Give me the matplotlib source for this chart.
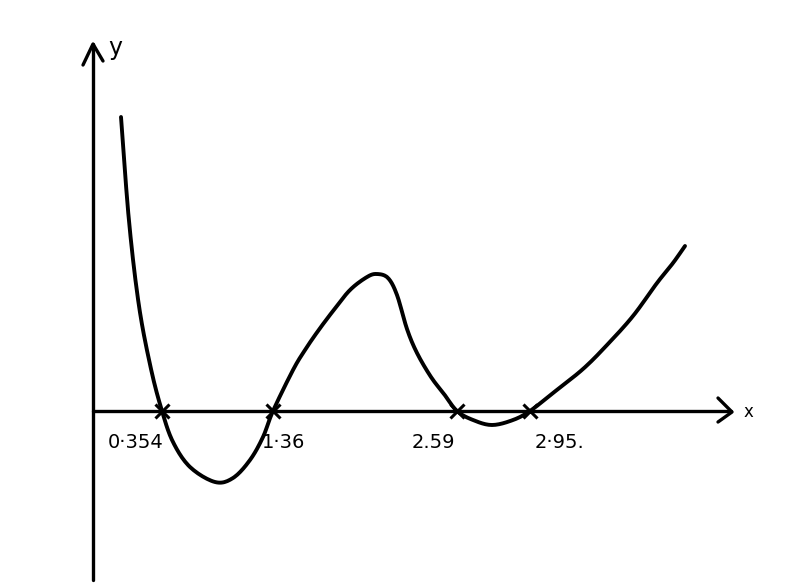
import matplotlib
matplotlib.use("Agg")
import matplotlib.pyplot as plt
import numpy as np

# Sketch coordinates (origin at axes crossing, y up)
curve_x = [28, 36, 46, 58, 69, 80, 97, 122, 140, 157, 170, 180,
           200, 212, 225, 240, 257, 274, 284, 295, 304, 314, 324, 338, 351, 364,
           380, 399, 420, 437, 460, 490, 514, 540, 564, 580, 592]
curve_y = [294, 190, 105, 42, 0, -31, -56, -71, -67, -49, -26, 0,
           41, 61, 80, 100, 121, 134, 137, 133, 116, 82, 58, 34, 17, 0,
           -9, -14, -9, 0, 18, 42, 66, 95, 128, 148, 165]

roots_x = [69, 180, 364, 437]
root_labels = ["0·354", "1·36", "2.59", "2·95."]
label_dx = [-26, 11, -24, 30]


def smooth_path(xs, ys, n=12):
    """Catmull-Rom path through the given points (for drawing only)."""
    p = np.column_stack([xs, ys]).astype(float)
    p = np.vstack([2 * p[0] - p[1], p, 2 * p[-1] - p[-2]])
    out = []
    t = np.linspace(0, 1, n, endpoint=False)[:, None]
    for i in range(1, len(p) - 2):
        p0, p1, p2, p3 = p[i - 1], p[i], p[i + 1], p[i + 2]
        seg = 0.5 * ((2 * p1) + (-p0 + p2) * t
                     + (2 * p0 - 5 * p1 + 4 * p2 - p3) * t ** 2
                     + (-p0 + 3 * p1 - 3 * p2 + p3) * t ** 3)
        out.append(seg)
    out.append(p[-2][None, :])
    out = np.vstack(out)
    return out[:, 0], out[:, 1]


fig = plt.figure(figsize=(7.89, 5.83), dpi=100)
ax = fig.add_axes([0, 0, 1, 1])
ox, oy = 93, 411
ax.set_xlim(-ox, 789 - ox)
ax.set_ylim(oy - 583, oy)
ax.axis("off")

lw = 2.4
# axes
ax.plot([0, 0], [oy - 580, oy - 44], color="black", lw=lw, solid_capstyle="round")
ax.plot([0, 638], [0, 0], color="black", lw=lw, solid_capstyle="round")
# arrowheads
ax.plot([-10, 0, 10], [346, 367, 350], color="black", lw=lw,
        solid_capstyle="round", solid_joinstyle="round")
ax.plot([625, 639, 625], [13, -1, -11], color="black", lw=lw,
        solid_capstyle="round", solid_joinstyle="round")
ax.text(22, 363, "y", fontsize=17, ha="center", va="center", family="DejaVu Sans")
ax.text(655, -1, "x", fontsize=12, ha="center", va="center", family="DejaVu Sans")

# curve
sx, sy = smooth_path(curve_x, curve_y)
ax.plot(sx, sy, color="black", lw=2.8, solid_capstyle="round",
        solid_joinstyle="round")

# root markers and labels
ax.plot(roots_x, [0] * len(roots_x), linestyle="none", marker="x",
        markersize=10, mew=2.2, color="black")
for rx, lab, dx in zip(roots_x, root_labels, label_dx):
    ax.text(rx + dx, -32, lab, fontsize=14, ha="center", va="center",
            family="DejaVu Sans")

fig.savefig("out.png", dpi=100)
